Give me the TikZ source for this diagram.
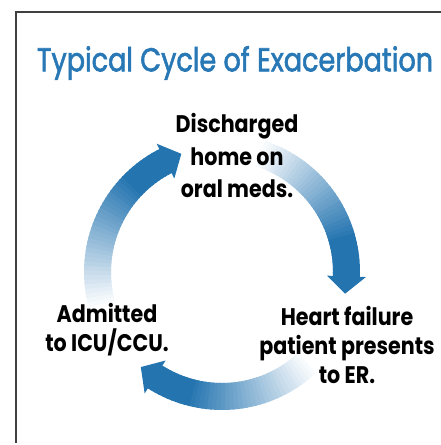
\documentclass[tikz,border=0pt]{standalone}
\usepackage{fontspec}
\setmainfont{Poppins}
\newfontfamily\ttlfont{Poppins}[FakeBold=2]
\usetikzlibrary{calc}
\definecolor{cycblue}{RGB}{36,116,176}
\definecolor{ttlblue}{RGB}{40,120,182}
\tikzstyle{lbl}=[align=center,font=\bfseries\fontsize{24}{29}\selectfont,inner sep=0pt,xscale=0.86,transform shape]
\tikzstyle{frame}=[line width=1.2pt,black!75]
\tikzstyle{band}=[line width=27pt,line cap=butt]

\begin{document}
\begin{tikzpicture}[x=1pt,y=1pt]
\useasboundingbox (0,0) rectangle (441,445);
% open box, left and top sides only
\draw[frame] (16,2) -- (16,433) -- (441,433);
\coordinate (ring) at (222,173);
% three arrows of the cycle, each fading in from white
\foreach \a/\b in {195/117,72/-2,-47/-122.5}{
  \foreach \k in {0,...,39}{
    \pgfmathsetmacro\sang{\a+(\b-\a)*\k/40}
    \pgfmathsetmacro\eang{\a+(\b-\a)*(\k+1.4)/40}
    \pgfmathtruncatemacro\pct{min(100,3+97*\k/30)}
    \draw[band,cycblue!\pct!white] ($(ring)+(\sang:124.5pt)$) arc[start angle=\sang,end angle=\eang,radius=124.5pt];
  }
  \fill[cycblue] ($(ring)+(\b:105pt)$) -- ($(ring)+(\b-8:125pt)$) -- ($(ring)+(\b:144pt)$) -- cycle;
}
\node[font=\ttlfont\fontsize{33}{36}\selectfont,text=ttlblue,xscale=0.82,transform shape] (title) at (235,382) {Typical Cycle of Exacerbation};
\node[lbl,font=\bfseries\fontsize{24}{32.5}\selectfont] (home) at (237,289.5) {Discharged\\home on\\oral meds.};
\node[lbl] (er) at (347,100.5) {Heart failure\\patient presents\\to ER.};
\node[lbl] (icu) at (107,115) {Admitted\\to ICU/CCU.};
\end{tikzpicture}
\end{document}
